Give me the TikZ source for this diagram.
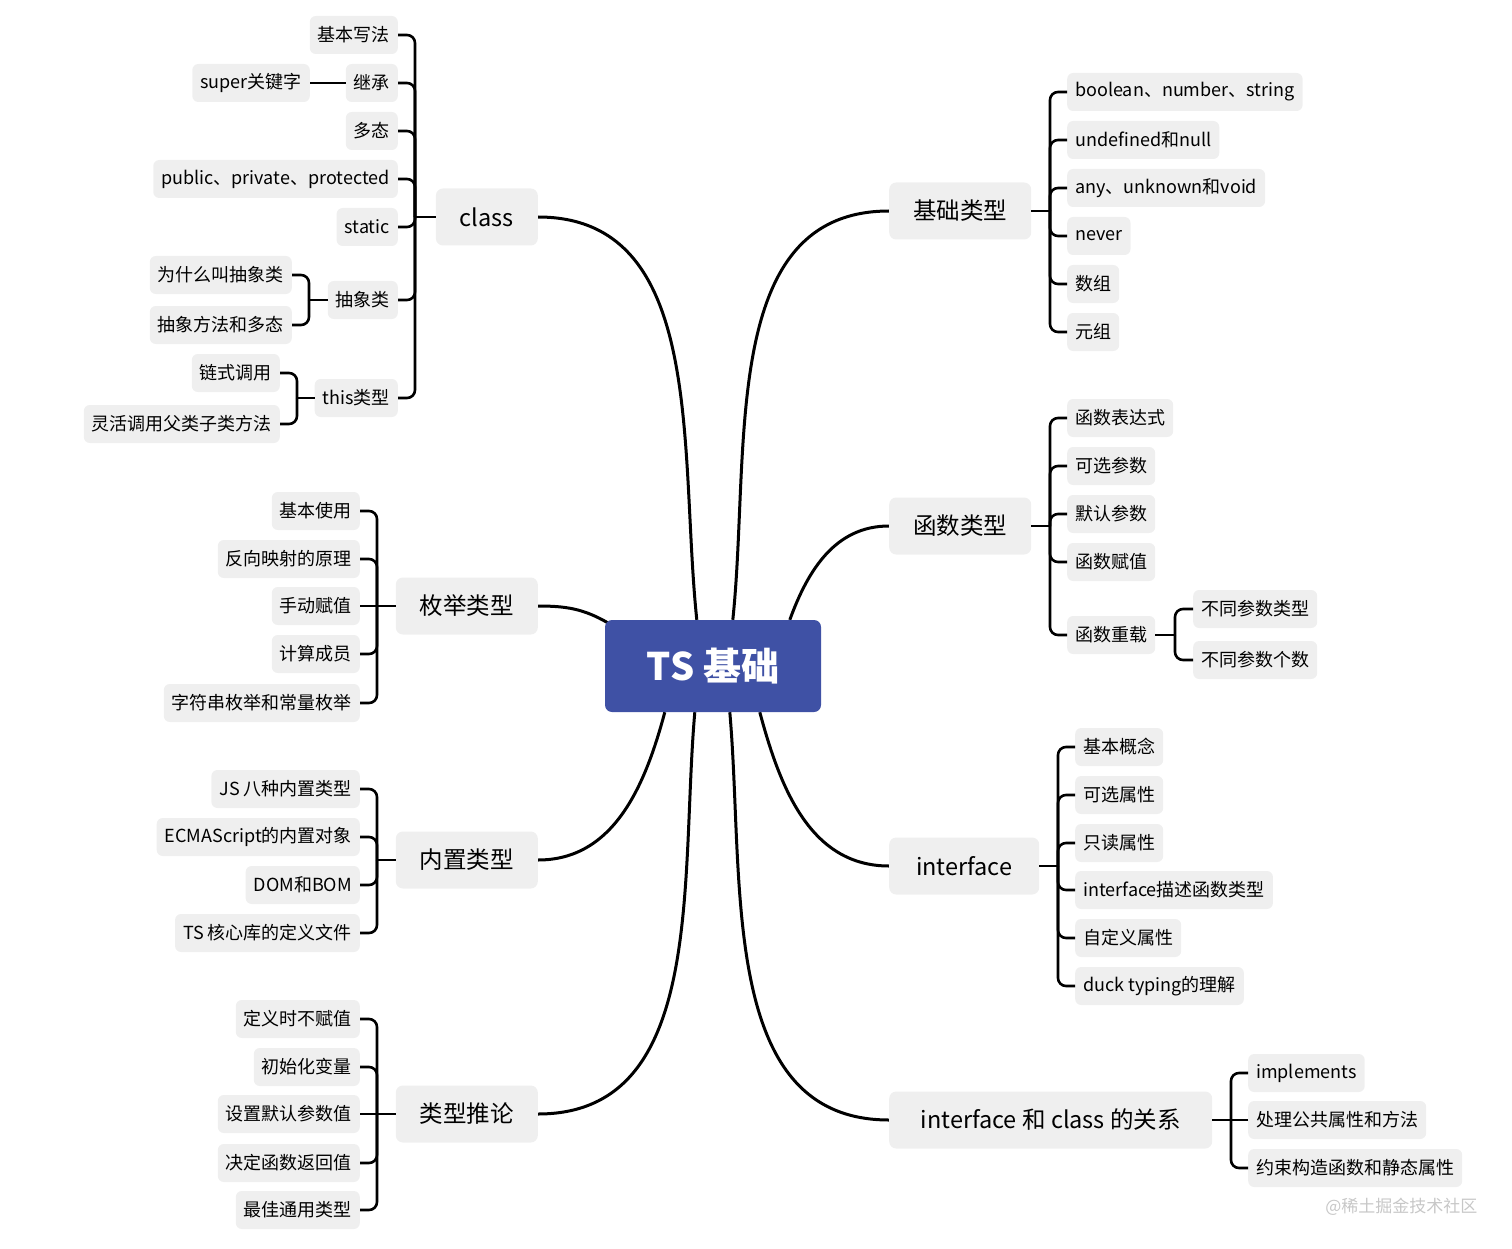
\documentclass[tikz,border=0pt]{standalone}
\usepackage{fontspec}
\setmainfont{Noto Sans CJK SC}
\usetikzlibrary{positioning,backgrounds}
\definecolor{rootblue}{RGB}{63,81,165}
\definecolor{boxgray}{RGB}{239,239,239}
\tikzset{
rootbox/.style={rectangle, rounded corners=7pt, fill=rootblue, text=white, minimum width=216pt, minimum height=92pt, font=\fontsize{38}{42}\selectfont\bfseries},
topic/.style={rectangle, rounded corners=7pt, fill=boxgray, inner xsep=24pt, inner ysep=0pt, minimum height=57pt, font=\fontsize{23.5}{26}\selectfont},
leaf/.style={rectangle, rounded corners=6pt, fill=boxgray, inner xsep=8pt, inner ysep=0pt, minimum height=38pt, font=\fontsize{18}{20}\selectfont},
branch/.style={draw=black, line width=3pt},
conn/.style={draw=black, line width=2.6pt, rounded corners=8pt},
}

\begin{document}
\begin{tikzpicture}[x=1pt, y=1pt]

    \useasboundingbox (0,0) rectangle (1512,-1249);

    \node[rootbox] (root) at (713,-666) {TS 基础};

    \node[topic, anchor=east] (class) at (538,-217) {class};
    \node[topic, anchor=east] (enum) at (538,-606) {枚举类型};
    \node[topic, anchor=east] (builtin) at (538,-860) {内置类型};
    \node[topic, anchor=east] (infer) at (538,-1114) {类型推论};
    \node[topic, anchor=west] (basic) at (889,-211) {基础类型};
    \node[topic, anchor=west] (func) at (889,-526) {函数类型};
    \node[topic, anchor=west, minimum width=150pt] (iface) at (889,-866) {interface};
    \node[topic, anchor=west, minimum width=323pt] (rel) at (889,-1120) {interface 和 class 的关系};

    \node[leaf, anchor=east] (c1) at (398,-35) {基本写法};
    \node[leaf, anchor=east] (c2) at (398,-83) {继承};
    \node[leaf, anchor=east] (c2a) at (310,-83) {super关键字};
    \node[leaf, anchor=east] (c3) at (398,-131) {多态};
    \node[leaf, anchor=east] (c4) at (398,-179) {public、private、protected};
    \node[leaf, anchor=east] (c5) at (398,-227) {static};
    \node[leaf, anchor=east] (c6) at (398,-300) {抽象类};
    \node[leaf, anchor=east] (c6a) at (292,-275) {为什么叫抽象类};
    \node[leaf, anchor=east] (c6b) at (292,-325) {抽象方法和多态};
    \node[leaf, anchor=east] (c7) at (398,-398) {this类型};
    \node[leaf, anchor=east] (c7a) at (280,-373) {链式调用};
    \node[leaf, anchor=east] (c7b) at (280,-424) {灵活调用父类子类方法};

    \node[leaf, anchor=east] (e1) at (360,-511) {基本使用};
    \node[leaf, anchor=east] (e2) at (360,-559) {反向映射的原理};
    \node[leaf, anchor=east] (e3) at (360,-606) {手动赋值};
    \node[leaf, anchor=east] (e4) at (360,-654) {计算成员};
    \node[leaf, anchor=east] (e5) at (360,-703) {字符串枚举和常量枚举};

    \node[leaf, anchor=east] (b1) at (360,-789) {JS 八种内置类型};
    \node[leaf, anchor=east] (b2) at (360,-837) {ECMAScript的内置对象};
    \node[leaf, anchor=east] (b3) at (360,-885) {DOM和BOM};
    \node[leaf, anchor=east] (b4) at (360,-933) {TS 核心库的定义文件};

    \node[leaf, anchor=east] (t1) at (360,-1019) {定义时不赋值};
    \node[leaf, anchor=east] (t2) at (360,-1067) {初始化变量};
    \node[leaf, anchor=east] (t3) at (360,-1114) {设置默认参数值};
    \node[leaf, anchor=east] (t4) at (360,-1163) {决定函数返回值};
    \node[leaf, anchor=east] (t5) at (360,-1210) {最佳通用类型};

    \node[leaf, anchor=west] (k1) at (1067,-92) {boolean、number、string};
    \node[leaf, anchor=west] (k2) at (1067,-140) {undefined和null};
    \node[leaf, anchor=west] (k3) at (1067,-188) {any、unknown和void};
    \node[leaf, anchor=west] (k4) at (1067,-236) {never};
    \node[leaf, anchor=west] (k5) at (1067,-284) {数组};
    \node[leaf, anchor=west] (k6) at (1067,-332) {元组};

    \node[leaf, anchor=west] (f1) at (1067,-418) {函数表达式};
    \node[leaf, anchor=west] (f2) at (1067,-466) {可选参数};
    \node[leaf, anchor=west] (f3) at (1067,-514) {默认参数};
    \node[leaf, anchor=west] (f4) at (1067,-562) {函数赋值};
    \node[leaf, anchor=west] (f5) at (1067,-635) {函数重载};
    \node[leaf, anchor=west] (f5a) at (1193,-609) {不同参数类型};
    \node[leaf, anchor=west] (f5b) at (1193,-660) {不同参数个数};

    \node[leaf, anchor=west] (i1) at (1075,-747) {基本概念};
    \node[leaf, anchor=west] (i2) at (1075,-795) {可选属性};
    \node[leaf, anchor=west] (i3) at (1075,-843) {只读属性};
    \node[leaf, anchor=west] (i4) at (1075,-890) {interface描述函数类型};
    \node[leaf, anchor=west] (i5) at (1075,-938) {自定义属性};
    \node[leaf, anchor=west] (i6) at (1075,-986) {duck typing的理解};

    \node[leaf, anchor=west] (r1) at (1248,-1073) {implements};
    \node[leaf, anchor=west] (r2) at (1248,-1120) {处理公共属性和方法};
    \node[leaf, anchor=west] (r3) at (1248,-1168) {约束构造函数和静态属性};

    \node[anchor=east, text=black!22, font=\fontsize{17}{20}\selectfont] (mark) at (1481,-1207) {@稀土掘金技术社区};

    \coordinate (cj) at (415,-217);
    \coordinate (c6j) at (309,-300);
    \coordinate (c7j) at (297,-398);
    \coordinate (ej) at (377,-606);
    \coordinate (bj) at (377,-860);
    \coordinate (tj) at (377,-1114);
    \coordinate (kj) at (1050,-211);
    \coordinate (fj) at (1050,-526);
    \coordinate (f5j) at (1175,-635);
    \coordinate (ij) at (1058,-866);
    \coordinate (rj) at (1231,-1120);

    \begin{scope}[on background layer]
    \draw[branch] (class.east) to[out=0,in=96] ([xshift=92pt]root.north west);
    \draw[branch] (enum.east) to[out=0,in=150] ([xshift=3pt,yshift=-3pt]root.north west);
    \draw[branch] (builtin.east) to[out=0,in=-105] ([xshift=60pt]root.south west);
    \draw[branch] (infer.east) to[out=0,in=-95] ([xshift=90pt]root.south west);
    \draw[branch] (basic.west) to[out=180,in=84] ([xshift=128pt]root.north west);
    \draw[branch] (func.west) to[out=180,in=70] ([xshift=185pt]root.north west);
    \draw[branch] (iface.west) to[out=180,in=-75] ([xshift=155pt]root.south west);
    \draw[branch] (rel.west) to[out=180,in=-85] ([xshift=125pt]root.south west);
    \end{scope}

    \draw[conn] (class.west) -- (cj);
    \draw[conn] (c1.east) -| (cj);
    \draw[conn] (c2.east) -| (cj);
    \draw[conn] (c3.east) -| (cj);
    \draw[conn] (c4.east) -| (cj);
    \draw[conn] (c5.east) -| (cj);
    \draw[conn] (c6.east) -| (cj);
    \draw[conn] (c7.east) -| (cj);
    \draw[conn] (c2.west) -- (c2a.east);
    \draw[conn] (c6.west) -- (c6j);
    \draw[conn] (c6a.east) -| (c6j);
    \draw[conn] (c6b.east) -| (c6j);
    \draw[conn] (c7.west) -- (c7j);
    \draw[conn] (c7a.east) -| (c7j);
    \draw[conn] (c7b.east) -| (c7j);

    \draw[conn] (enum.west) -- (ej);
    \draw[conn] (e1.east) -| (ej);
    \draw[conn] (e2.east) -| (ej);
    \draw[conn] (e3.east) -- (ej);
    \draw[conn] (e4.east) -| (ej);
    \draw[conn] (e5.east) -| (ej);

    \draw[conn] (builtin.west) -- (bj);
    \draw[conn] (b1.east) -| (bj);
    \draw[conn] (b2.east) -| (bj);
    \draw[conn] (b3.east) -| (bj);
    \draw[conn] (b4.east) -| (bj);

    \draw[conn] (infer.west) -- (tj);
    \draw[conn] (t1.east) -| (tj);
    \draw[conn] (t2.east) -| (tj);
    \draw[conn] (t3.east) -- (tj);
    \draw[conn] (t4.east) -| (tj);
    \draw[conn] (t5.east) -| (tj);

    \draw[conn] (basic.east) -- (kj);
    \draw[conn] (k1.west) -| (kj);
    \draw[conn] (k2.west) -| (kj);
    \draw[conn] (k3.west) -| (kj);
    \draw[conn] (k4.west) -| (kj);
    \draw[conn] (k5.west) -| (kj);
    \draw[conn] (k6.west) -| (kj);

    \draw[conn] (func.east) -- (fj);
    \draw[conn] (f1.west) -| (fj);
    \draw[conn] (f2.west) -| (fj);
    \draw[conn] (f3.west) -| (fj);
    \draw[conn] (f4.west) -| (fj);
    \draw[conn] (f5.west) -| (fj);
    \draw[conn] (f5.east) -- (f5j);
    \draw[conn] (f5a.west) -| (f5j);
    \draw[conn] (f5b.west) -| (f5j);

    \draw[conn] (iface.east) -- (ij);
    \draw[conn] (i1.west) -| (ij);
    \draw[conn] (i2.west) -| (ij);
    \draw[conn] (i3.west) -| (ij);
    \draw[conn] (i4.west) -| (ij);
    \draw[conn] (i5.west) -| (ij);
    \draw[conn] (i6.west) -| (ij);

    \draw[conn] (rel.east) -- (rj);
    \draw[conn] (r1.west) -| (rj);
    \draw[conn] (r2.west) -- (rj);
    \draw[conn] (r3.west) -| (rj);

\end{tikzpicture}
\end{document}
